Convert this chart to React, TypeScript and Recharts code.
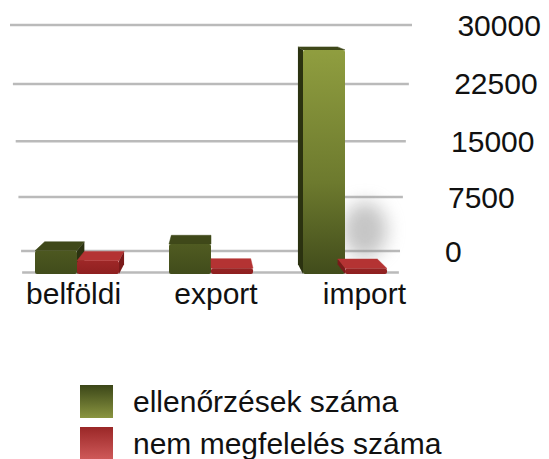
import React from 'react';
import { BarChart, Bar, XAxis, YAxis, CartesianGrid, Legend } from 'recharts';

const categories = ['belföldi', 'export', 'import'];
const checksValues = [2800, 3600, 27000];
const nonComplianceValues = [1600, 700, 650];
const yTicks = [0, 7500, 15000, 22500, 30000];
const seriesNames = ['ellenőrzések száma', 'nem megfelelés száma'];

const data = categories.map((c, i) => ({
  name: c,
  checks: checksValues[i],
  nonc: nonComplianceValues[i],
}));

const FONT = '"Liberation Sans", Arial, Helvetica, sans-serif';
const VX = 211;
const VY = -50;
const FX = 0.055;
const FY = 0.03;

const back = (px: number, py: number): [number, number] => [px + (VX - px) * FX, py + (VY - py) * FY];
const warp = (y: number) => y + 0.00026 * (y - 25) * (251 - y);

const makeBox = (front: string, topC: string, sideC: string, shadow: boolean) => (props: any) => {
  const { x, y, width, height } = props;
  if (!height || height <= 0) return <g />;
  const l = x, r = x + width, t = y, b = y + height;
  const [btlx, btly] = back(l, t);
  const [btrx, btry] = back(r, t);
  const [bblx, bbly] = back(l, b);
  const [bbrx, bbry] = back(r, b);
  return (
    <g>
      {shadow && height > 100 && (
        <ellipse cx={r + 20} cy={b - 44} rx={22} ry={28} fill="#8c8c8c" opacity={0.5} filter="url(#blurSh)" />
      )}
      <path d={`M${l},${t} L${r},${t} L${btrx},${btry} L${btlx},${btly} Z`} fill={topC} stroke={topC} strokeWidth={0.5} strokeLinejoin="round" />
      {l > VX && (
        <path d={`M${l},${t} L${l},${b} L${bblx},${bbly} L${btlx},${btly} Z`} fill={sideC} />
      )}
      {r < VX && (
        <path d={`M${r},${t} L${r},${b} L${bbrx},${bbry} L${btrx},${btry} Z`} fill={sideC} />
      )}
      <rect x={l} y={t} width={width} height={height} rx={2} ry={2} fill={front} />
    </g>
  );
};

const GreenBox = makeBox('url(#gFront)', '#3f4819', '#2b3210', true);
const RedBox = makeBox('url(#rFront)', '#b43333', '#7a1a1a', false);

const XTick = (props: any) => {
  const { x, y, payload } = props;
  const xx = 216 + (x - 211) * (x < 211 ? 1.063 : 1.108);
  return (
    <text x={xx} y={y + 22} textAnchor="middle" fontSize={30} fontFamily={FONT} fill="#111">
      {payload.value}
    </text>
  );
};

const YTick = (props: any) => {
  const { y, payload } = props;
  const yy = warp(y);
  const xx = 445 + (251 - yy) * 0.055;
  return (
    <text x={xx} y={yy + 10.5} fontSize={30} fontFamily={FONT} fill="#111">
      {payload.value}
    </text>
  );
};

const GridLine = (props: any) => {
  const { x1, x2, y1, index } = props;
  const yy = warp(y1);
  const d = yy - 25;
  return (
    <line
      key={`gl-${index}`}
      x1={x1 + d * 0.049}
      x2={x2 - d * 0.053}
      y1={yy}
      y2={yy}
      stroke="#bababa"
      strokeWidth={2.5}
    />
  );
};

const LegendContent = () => (
  <div style={{ fontFamily: FONT }}>
    {seriesNames.map((n, i) => (
      <div key={n} style={{ display: 'flex', alignItems: 'center', height: 33, marginBottom: 9 }}>
        <div
          style={{
            width: 33,
            height: 33,
            background:
              i === 0
                ? 'linear-gradient(#3b4618, #8a9540)'
                : 'linear-gradient(#9a2727, #d05a5a)',
          }}
        />
        <span style={{ marginLeft: 20, fontSize: 30, lineHeight: '33px', color: '#111', whiteSpace: 'nowrap' }}>{n}</span>
      </div>
    ))}
  </div>
);

export default function App() {
  return (
    <div style={{ position: 'absolute', left: 0, top: 0, background: '#fff' }}>
      <BarChart
        width={549}
        height={459}
        data={data}
        barGap={0}
        margin={{ top: 25, right: 0, left: 10, bottom: 145 }}
      >
        <defs>
          <linearGradient id="gFront" x1="0" y1="45" x2="0" y2="274" gradientUnits="userSpaceOnUse">
            <stop offset="0" stopColor="#919f40" />
            <stop offset="0.6" stopColor="#6d7a2e" />
            <stop offset="1" stopColor="#414c1b" />
          </linearGradient>
          <linearGradient id="rFront" x1="0" y1="255" x2="0" y2="274" gradientUnits="userSpaceOnUse">
            <stop offset="0" stopColor="#a52a2a" />
            <stop offset="1" stopColor="#8e2020" />
          </linearGradient>
          <filter id="blurSh" x="-100%" y="-100%" width="300%" height="300%">
            <feGaussianBlur stdDeviation="9" />
          </filter>
        </defs>
        <CartesianGrid yAxisId="v" vertical={false} horizontal={GridLine} />
        <XAxis dataKey="name" axisLine={false} tickLine={false} height={40} tick={<XTick />} interval={0} />
        <YAxis
          yAxisId="v"
          orientation="right"
          width={137}
          type="number"
          domain={[-3050, 30000]}
          allowDataOverflow
          ticks={yTicks}
          axisLine={false}
          tickLine={false}
          tick={<YTick />}
          interval={0}
        />
        <YAxis yAxisId="b" hide type="number" domain={[0, 30000]} allowDataOverflow />
        <Bar yAxisId="b" dataKey="checks" name={seriesNames[0]} barSize={42} shape={GreenBox} isAnimationActive={false} />
        <Bar yAxisId="b" dataKey="nonc" name={seriesNames[1]} barSize={42} shape={RedBox} isAnimationActive={false} />
        <Legend
          verticalAlign="middle"
          align="center"
          layout="horizontal"
          content={<LegendContent />}
          wrapperStyle={{ top: 385, left: 80, width: 460, height: 80 }}
        />
      </BarChart>
    </div>
  );
}
